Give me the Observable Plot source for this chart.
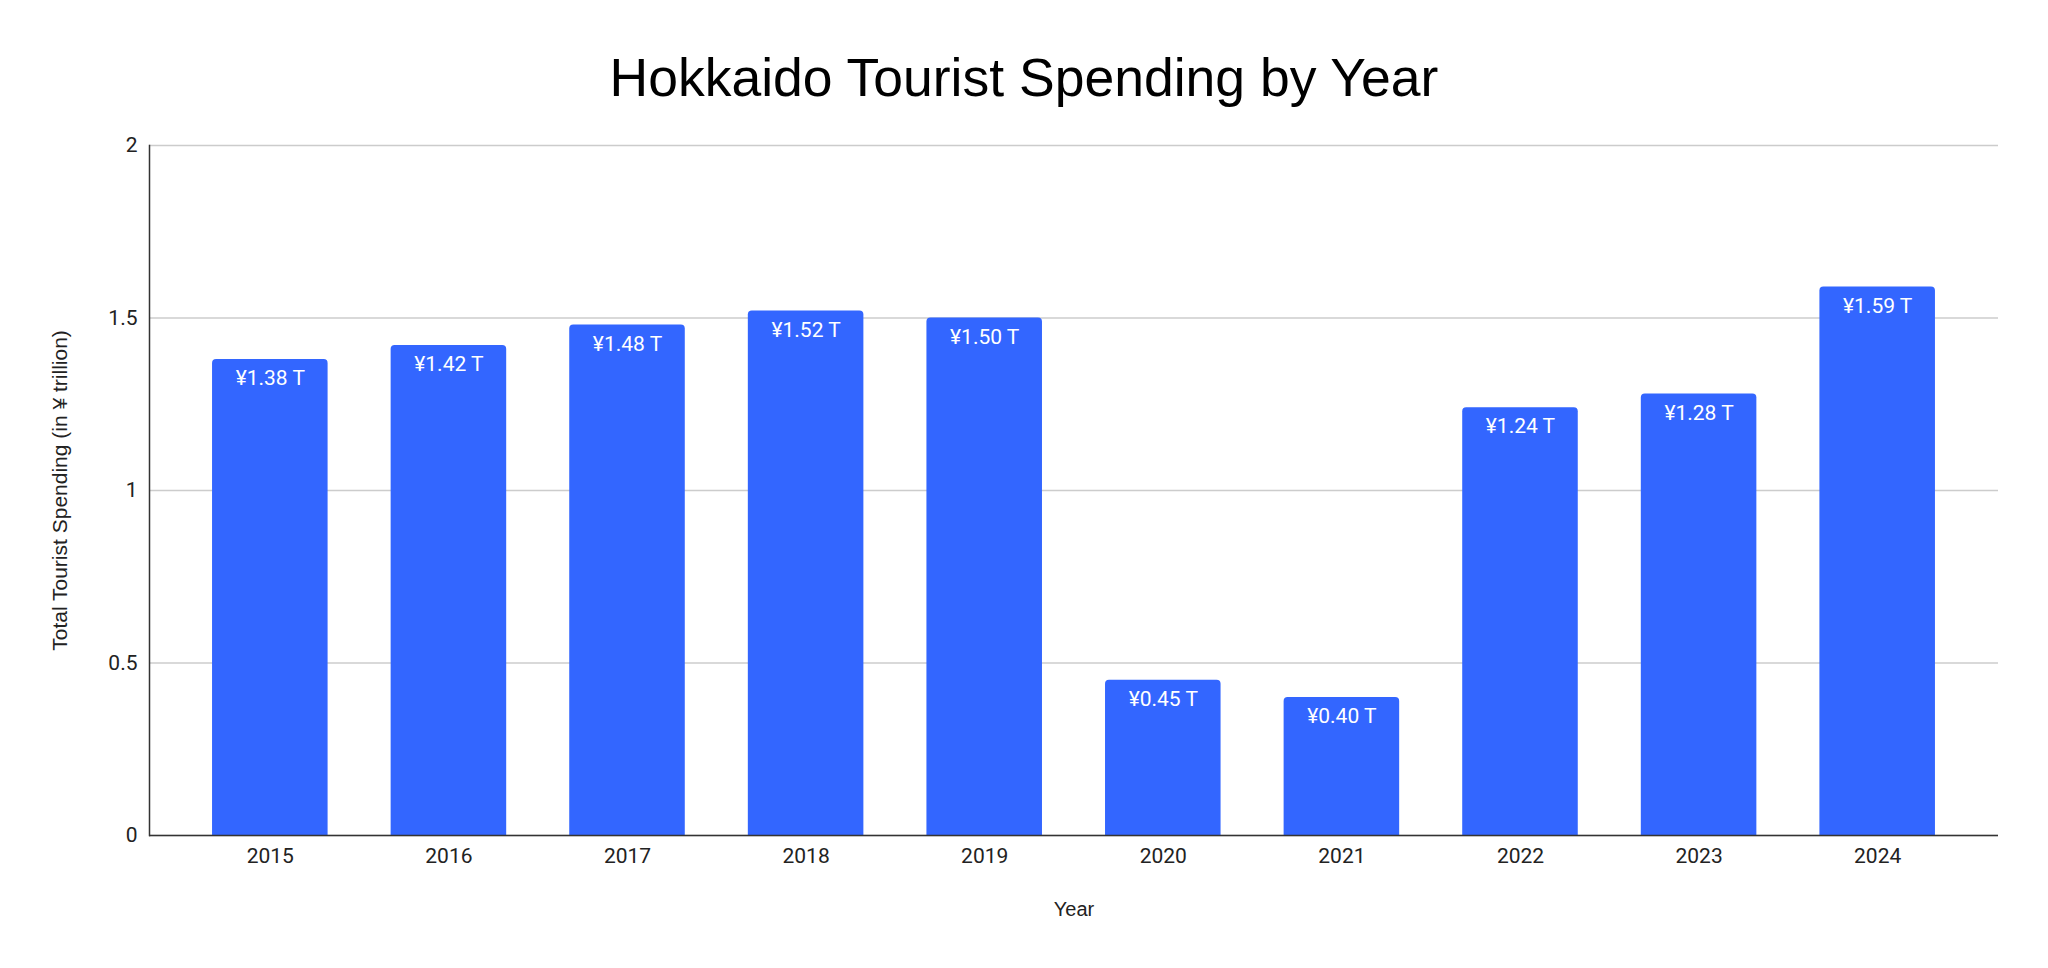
<!DOCTYPE html>
<html>
<head>
<meta charset="utf-8">
<script src="https://cdn.jsdelivr.net/npm/d3@7"></script>
<script src="https://cdn.jsdelivr.net/npm/@observablehq/plot@0.6"></script>
<style>
  html, body { margin: 0; padding: 0; background: #fff; }
  #title {
    box-sizing: border-box;
    height: 120px;
    padding-top: 51px;
    font-family: "Liberation Sans", Arial, sans-serif;
    font-size: 53.5px;
    line-height: 53.5px;
    text-align: center;
    color: #000;
  }
  #chart svg g[aria-label="y-axis label"] {
    font-family: "Liberation Sans", Arial, sans-serif;
    font-size: 21px;
  }
  #chart svg g[aria-label="x-axis label"] {
    font-family: "Liberation Sans", Arial, sans-serif;
    font-size: 20px;
  }
</style>
</head>
<body>
<div id="title">Hokkaido Tourist Spending by Year</div>
<div id="chart"></div>
<script>
const years = ["2015", "2016", "2017", "2018", "2019", "2020", "2021", "2022", "2023", "2024"];
const spending = [1.38, 1.42, 1.48, 1.52, 1.50, 0.45, 0.40, 1.24, 1.28, 1.59];
const valueLabels = ["¥1.38 T", "¥1.42 T", "¥1.48 T", "¥1.52 T", "¥1.50 T", "¥0.45 T", "¥0.40 T", "¥1.24 T", "¥1.28 T", "¥1.59 T"];
const yTicks = [0, 0.5, 1, 1.5, 2];

const data = years.map((year, i) => ({year, value: spending[i], label: valueLabels[i]}));

const chart = Plot.plot({
  width: 2048,
  height: 848,
  marginTop: 25,
  marginBottom: 133,
  marginLeft: 149,
  marginRight: 50,
  style: {fontFamily: "Roboto, sans-serif", fontSize: "21px", color: "#222", background: "#fff"},
  x: {domain: years, padding: 0.353, round: false},
  y: {domain: [0, 2]},
  marks: [
    Plot.gridY(yTicks, {stroke: "#cccccc", strokeOpacity: 1, strokeWidth: 1.5}),
    Plot.barY(data, {x: "year", y: "value", fill: "#3366ff", ry1: 4}),
    Plot.text(data, {x: "year", y: "value", text: "label", fill: "#ffffff", fontSize: 21, fontFamily: "Roboto, sans-serif", dy: 19}),
    Plot.ruleY([0], {stroke: "#333333", strokeWidth: 1.5}),
    Plot.frame({anchor: "left", stroke: "#333333", strokeWidth: 1.5}),
    Plot.axisY(yTicks, {tickSize: 0, tickPadding: 12, tickFormat: d => String(d), label: "Total Tourist Spending (in ¥ trillion)", labelAnchor: "center", labelOffset: 97, labelArrow: "none", fill: "#222"}),
    Plot.axisX({tickSize: 0, tickPadding: 13, label: "Year", labelAnchor: "center", labelOffset: 80, labelArrow: "none", fill: "#222"})
  ]
});
document.getElementById("chart").appendChild(chart);
</script>
</body>
</html>
